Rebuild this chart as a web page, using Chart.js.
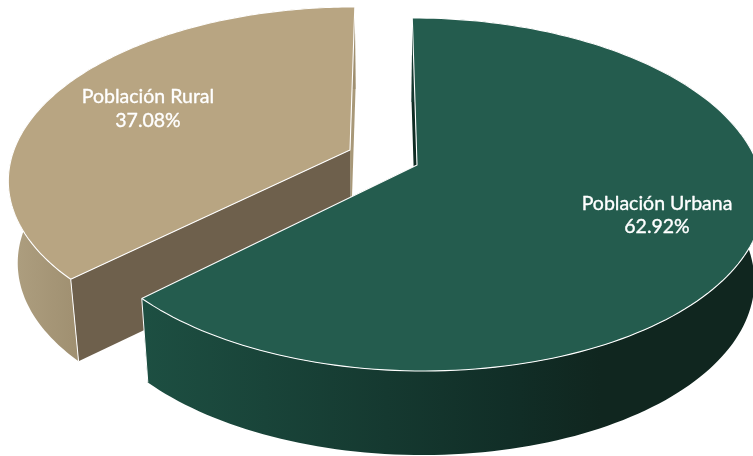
<!DOCTYPE html>
<html>
<head>
<meta charset="utf-8">
<style>html,body{margin:0;padding:0;background:#fff}canvas{display:block}</style>
<script src="https://cdn.jsdelivr.net/npm/chart.js@4"></script>
</head>
<body>
<canvas id="c" width="753" height="456"></canvas>
<script>
const categories = ["Población Urbana", "Población Rural"];
const shares = [62.92, 37.08];
const topColors = ["#245C4E", "#B8A582"];

const view = { x0: 384, y0: 165, p: 0.167, ry: 171.6, shrink: 0.975 };
const slices = [
  { ox: 0.0968, oy: 0, rx: 341, depth: 84, wall: "#0E2A22", endWall: "#0E2A22",
    side: [[0, "#1D4F42"], [0.6, "#112E27"], [0.75, "#10261F"], [1, "#10261F"]], x1: 143, x2: 753, text: [657, 210, 233] },
  { ox: -0.1012, oy: -0.0887, rx: 341, depth: 82, wall: "#6E604C", endWall: "#A89878",
    side: [[0, "#AE9F80"], [1, "#9F8F70"]], x1: 10, x2: 80, text: [148, 103, 127] }
];

function project(s, x, y, low) {
  const px = x + s.ox, py = y + s.oy, w = 1 - view.p * py;
  let X = view.x0 + s.rx * px / w, Y = view.y0 + view.ry * py / w;
  if (low) {
    X = view.x0 + (X - view.x0) * view.shrink;
    Y += s.depth;
  }
  return [X, Y];
}
function rim(s, a0, a1, low) {
  const pts = [], n = 160;
  for (let i = 0; i <= n; i++) {
    const a = a0 + (a1 - a0) * i / n;
    pts.push(project(s, Math.cos(a), Math.sin(a), low));
  }
  return pts;
}
function trace(ctx, pts) {
  ctx.beginPath();
  pts.forEach((p, i) => i ? ctx.lineTo(p[0], p[1]) : ctx.moveTo(p[0], p[1]));
}
function line(ctx, pts, width) {
  trace(ctx, pts);
  ctx.strokeStyle = "#fff"; ctx.lineWidth = width; ctx.lineJoin = "round"; ctx.stroke();
}

const solidSlices = {
  id: "solidSlices",
  beforeDatasetsDraw(chart) {
    const ctx = chart.ctx, arcs = chart.getDatasetMeta(0).data;
    ctx.save();
    [1, 0].forEach(i => {
      const s = slices[i], a0 = arcs[i].startAngle, a1 = arcs[i].endAngle;
      const c = project(s, 0, 0), cl = project(s, 0, 0, true);
      const top = rim(s, a0, a1), low = rim(s, a0, a1, true);
      const t0 = top[0], t1 = top[top.length - 1], l0 = low[0], l1 = low[low.length - 1];
      const walls = i === 0
        ? [[[c, t0, l0, cl], s.endWall], [[c, t1, l1, cl], s.wall]]
        : [[[c, t1, l1, cl], s.endWall], [[c, t0, l0, cl], s.wall]];
      walls.forEach(w => {
        trace(ctx, w[0]); ctx.closePath(); ctx.fillStyle = w[1]; ctx.fill();
      });
      const g = ctx.createLinearGradient(s.x1, 0, s.x2, 0);
      s.side.forEach(st => g.addColorStop(st[0], st[1]));
      ctx.beginPath();
      for (let k = 0; k + 1 < top.length; k++) {
        ctx.moveTo(top[k][0], top[k][1]);
        ctx.lineTo(top[k + 1][0], top[k + 1][1]);
        ctx.lineTo(low[k + 1][0], low[k + 1][1]);
        ctx.lineTo(low[k][0], low[k][1]);
        ctx.closePath();
      }
      ctx.fillStyle = g; ctx.fill();

      trace(ctx, [c].concat(top)); ctx.closePath();
      ctx.fillStyle = topColors[i]; ctx.fill();

      line(ctx, [i === 0 ? t1 : t0, i === 0 ? l1 : l0], 1);
      line(ctx, top, 1.1);
      line(ctx, [t1, c, t0], 1.1);

      ctx.fillStyle = "#fff"; ctx.strokeStyle = "#fff"; ctx.lineWidth = 0.35;
      ctx.textAlign = "center"; ctx.textBaseline = "alphabetic";
      ctx.font = "19.5px Lato";
      [chart.data.labels[i], shares[i].toFixed(2) + "%"].forEach((t, k) => {
        ctx.fillText(t, s.text[0], s.text[k + 1]);
        ctx.strokeText(t, s.text[0], s.text[k + 1]);
      });
    });
    ctx.restore();
    return false;
  }
};

new Chart(document.getElementById("c"), {
  type: "pie",
  data: { labels: categories, datasets: [{ data: shares, backgroundColor: topColors, borderColor: "#fff" }] },
  options: {
    responsive: false, animation: false, rotation: 0,
    plugins: { legend: { display: false }, tooltip: { enabled: false } }
  },
  plugins: [solidSlices]
});
</script>
</body>
</html>
